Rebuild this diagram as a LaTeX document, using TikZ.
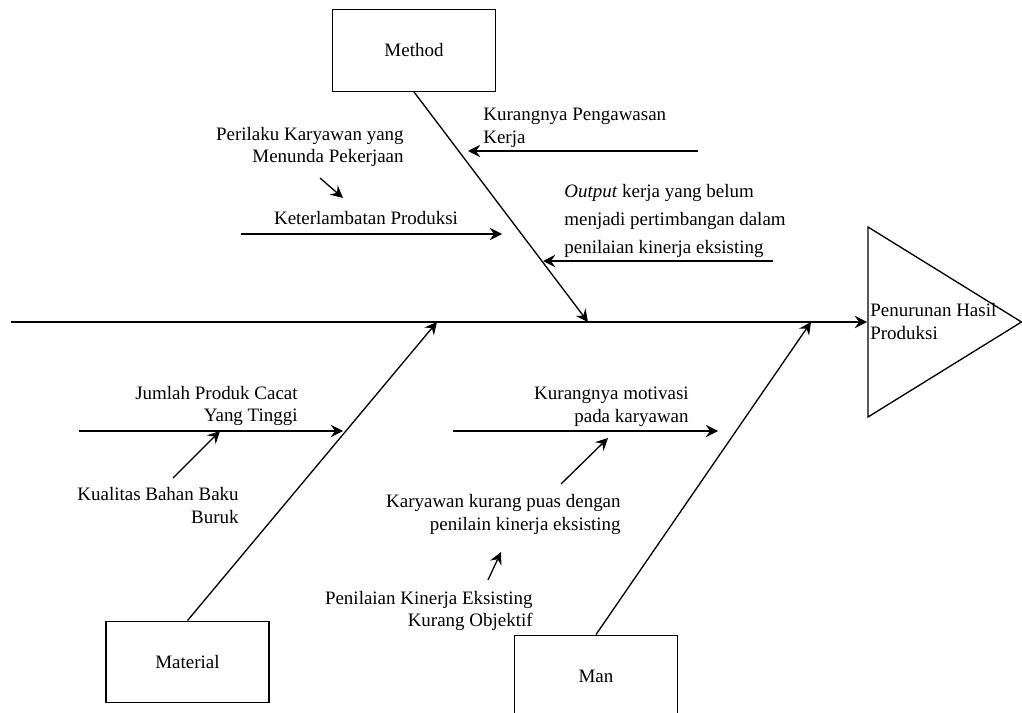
\documentclass[tikz,border=0pt]{standalone}
\usepackage{fontspec}
\setmainfont{Liberation Serif}
\usetikzlibrary{arrows.meta}

\tikzset{
  box/.style={draw=black, line width=0.8pt, minimum width=3.26cm, minimum height=1.63cm, font=\fontsize{10.8}{13}\selectfont},
  txt/.style={inner sep=0pt, font=\fontsize{10.8}{13}\selectfont},
  arr/.style={-{Stealth[length=7pt, width=7pt, inset=2.5pt]}, line width=0.75pt},
}

\begin{document}
\begin{tikzpicture}[x=0.02cm, y=-0.02cm]
            \useasboundingbox (0,0) rectangle (1022,713);

            % categories
            \node[box] (method) at (414,50.5) {Method};
            \node[box] (material) at (187.5,662) {Material};
            \node[box] (man) at (596,676) {Man};

            % effect
            \draw[line width=0.75pt] (868,227) -- (1021.5,322) -- (868,417) -- cycle;
            \node[txt, align=left, anchor=west] (effect) at (870,321.5) {Penurunan Hasil\\Produksi};

            % spine and bones
            \coordinate (tail) at (11,322);
            \coordinate (head) at (867,322);
            \coordinate (jm) at (588,322);
            \coordinate (jt) at (437,322);
            \coordinate (jn) at (811,322);
            \draw[arr] (tail) -- (head);
            \draw[arr] (method.south) -- (jm);
            \draw[arr] (material.north) -- (jt);
            \draw[arr] (man.north) -- (jn);

            % method
            \node[txt, align=left, anchor=west] (pengawasan) at (483,127.5) {Kurangnya Pengawasan\\Kerja};
            \coordinate (pw1) at (698,151);
            \coordinate (pw2) at (468,151);
            \draw[arr] (pw1) -- (pw2);
            \node[txt, align=left, anchor=west, font=\fontsize{10.8}{16}\selectfont] (output) at (564,221) {\textit{Output} kerja yang belum\\menjadi pertimbangan dalam\\penilaian kinerja eksisting};
            \coordinate (op1) at (773,261);
            \coordinate (op2) at (543,261);
            \draw[arr] (op1) -- (op2);
            \node[txt, align=right, anchor=east] (perilaku) at (404,147) {Perilaku Karyawan yang\\Menunda Pekerjaan};
            \coordinate (pr1) at (320,178);
            \coordinate (pr2) at (343,198);
            \draw[arr] (pr1) -- (pr2);
            \node[txt] (terlambat) at (366,218) {Keterlambatan Produksi};
            \coordinate (tl1) at (241,234);
            \coordinate (tl2) at (502,234);
            \draw[arr] (tl1) -- (tl2);

            % material
            \node[txt, align=right, anchor=east] (cacat) at (298,406) {Jumlah Produk Cacat\\Yang Tinggi};
            \coordinate (cc1) at (79,431);
            \coordinate (cc2) at (343,431);
            \draw[arr] (cc1) -- (cc2);
            \node[txt, align=right, anchor=east] (kualitas) at (239,505.5) {Kualitas Bahan Baku\\Buruk};
            \coordinate (kb1) at (173,478);
            \coordinate (kb2) at (220,431);
            \draw[arr] (kb1) -- (kb2);

            % man
            \node[txt, align=right, anchor=east] (motivasi) at (689,407) {Kurangnya motivasi\\pada karyawan};
            \coordinate (mv1) at (453,431);
            \coordinate (mv2) at (718,431);
            \draw[arr] (mv1) -- (mv2);
            \node[txt, align=right, anchor=east] (puas) at (621,514.5) {Karyawan kurang puas dengan\\penilain kinerja eksisting};
            \coordinate (ps1) at (561,484);
            \coordinate (ps2) at (608,438);
            \draw[arr] (ps1) -- (ps2);
            \node[txt, align=right, anchor=east] (objektif) at (533,611) {Penilaian Kinerja Eksisting\\Kurang Objektif};
            \coordinate (ob1) at (488,580);
            \coordinate (ob2) at (501,552);
            \draw[arr] (ob1) -- (ob2);
        \end{tikzpicture}
\end{document}
